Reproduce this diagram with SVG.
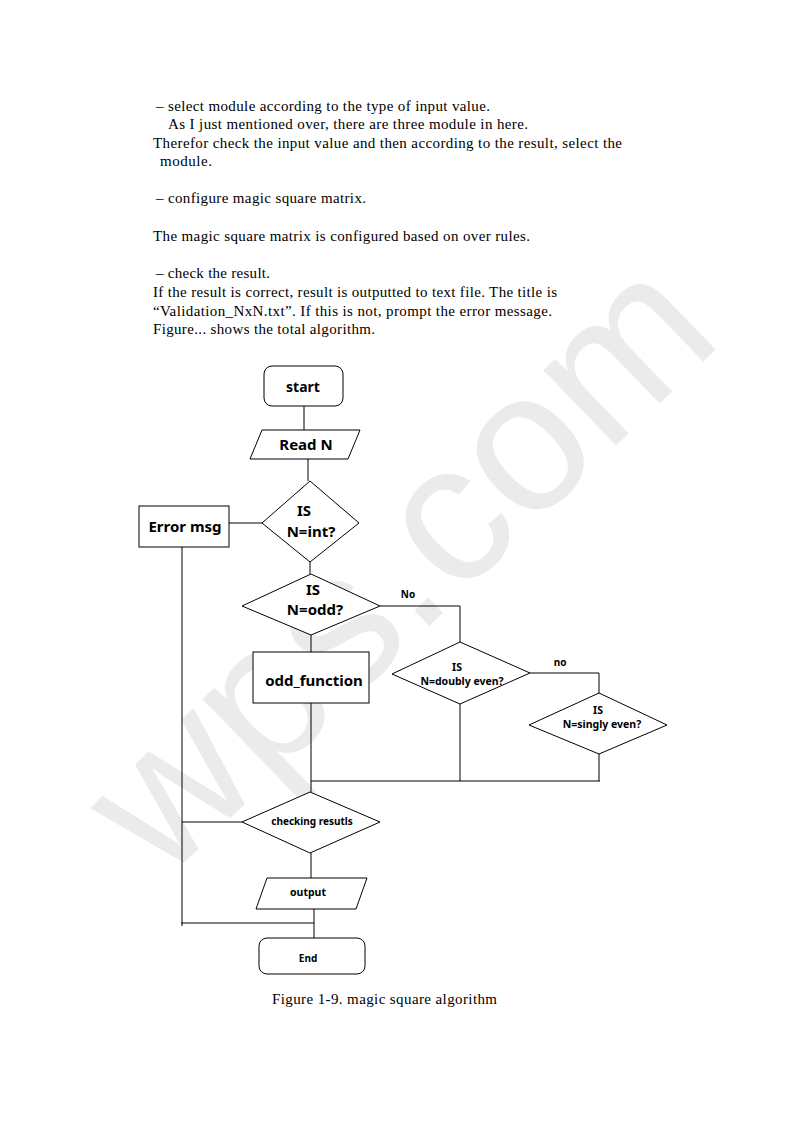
<svg xmlns="http://www.w3.org/2000/svg" width="793" height="1122" viewBox="0 0 793 1122">
<style>
.p{font-family:"Liberation Serif","Times New Roman",serif;font-size:15px;fill:#000}
.n{fill:#fff;stroke:#000;stroke-width:1}
.t{font-family:"Noto Sans","Open Sans",sans-serif;font-weight:bold;fill:#000;text-anchor:middle;dominant-baseline:central}
.c{fill:none;stroke:#000;stroke-width:1}
.wm{font-family:"Liberation Sans",Arial,sans-serif;font-size:198px;fill:#ebebeb}
</style>
<rect width="793" height="1122" fill="#fff"/>
<text class="wm" x="163" y="883" transform="rotate(-44 163 883)">wps.com</text>
<g id="body-text">
<text class="p" x="156" y="111" textLength="334" lengthAdjust="spacing">– select module according to the type of input value.</text>
<text class="p" x="168" y="129" textLength="360" lengthAdjust="spacing">As I just mentioned over, there are three module in here.</text>
<text class="p" x="153" y="148" textLength="469" lengthAdjust="spacing">Therefor check the input value and then according to the result, select the</text>
<text class="p" x="160" y="166" textLength="52" lengthAdjust="spacing">module.</text>
<text class="p" x="156" y="203" textLength="210" lengthAdjust="spacing">– configure magic square matrix.</text>
<text class="p" x="153" y="241" textLength="377" lengthAdjust="spacing">The magic square matrix is configured based on over rules.</text>
<text class="p" x="156" y="278" textLength="114" lengthAdjust="spacing">– check the result.</text>
<text class="p" x="153" y="297" textLength="404" lengthAdjust="spacing">If the result is correct, result is outputted to text file. The title is</text>
<text class="p" x="153" y="316" textLength="399" lengthAdjust="spacing">“Validation_NxN.txt”. If this is not, prompt the error message.</text>
<text class="p" x="153" y="334" textLength="222" lengthAdjust="spacing">Figure... shows the total algorithm.</text>
</g>
<g id="connectors">
<path class="c" d="M304 406V430"/>
<path class="c" d="M308 459V481"/>
<path class="c" d="M229 523H262"/>
<path class="c" d="M182 547V926"/>
<path class="c" d="M310 562V574"/>
<path class="c" d="M380 606H460V642"/>
<path class="c" d="M311 635V652"/>
<path class="c" d="M530 673H599V693"/>
<path class="c" d="M311 703V792"/>
<path class="c" d="M460 704V781"/>
<path class="c" d="M599 754V781"/>
<path class="c" d="M311 781H600"/>
<path class="c" d="M182 822H242"/>
<path class="c" d="M311 853V878"/>
<path class="c" d="M314 909V938"/>
<path class="c" d="M181 923H314"/>
</g>
<g id="start">
<rect class="n" x="264" y="366" width="79" height="40" rx="8"/>
<text class="t" x="303" y="386" font-size="14">start</text>
</g>
<g id="readN">
<polygon class="n" points="262,430 360,430 348,459 250,459"/>
<text class="t" x="306" y="444" font-size="15">Read N</text>
</g>
<g id="isInt">
<polygon class="n" points="310,481 359,523 310,562 262,523"/>
<text class="t" x="304" y="510" font-size="15">IS</text>
<text class="t" x="311" y="531" font-size="15">N=int?</text>
</g>
<g id="errorMsg">
<rect class="n" x="139" y="506" width="90" height="41"/>
<text class="t" x="185" y="526" font-size="15">Error msg</text>
</g>
<g id="isOdd">
<polygon class="n" points="311,574 380,606 311,635 242,606"/>
<text class="t" x="313" y="589" font-size="15">IS</text>
<text class="t" x="315" y="609" font-size="15">N=odd?</text>
</g>
<text class="t" x="408" y="594" font-size="10">No</text>
<g id="oddFunction">
<rect class="n" x="253" y="652" width="116" height="51"/>
<text class="t" x="314" y="680" font-size="15">odd_function</text>
</g>
<g id="isDoubly">
<polygon class="n" points="460,642 530,673 460,704 392,674"/>
<text class="t" x="457" y="667" font-size="10.5">IS</text>
<text class="t" x="462" y="681" font-size="10.5">N=doubly even?</text>
</g>
<text class="t" x="560" y="662" font-size="10">no</text>
<g id="isSingly">
<polygon class="n" points="599,693 667,725 599,754 529,725"/>
<text class="t" x="598" y="710" font-size="10.5">IS</text>
<text class="t" x="602" y="724" font-size="10.5">N=singly even?</text>
</g>
<g id="checking">
<polygon class="n" points="310,792 380,822 310,853 242,822"/>
<text class="t" x="312" y="821" font-size="10">checking resutls</text>
</g>
<g id="output">
<polygon class="n" points="267,878 367,878 356,909 256,909"/>
<text class="t" x="308" y="892" font-size="10.5">output</text>
</g>
<g id="end">
<rect class="n" x="259" y="938" width="106" height="36" rx="8"/>
<text class="t" x="308" y="958" font-size="10">End</text>
</g>
<text class="p" x="272" y="1004" textLength="225" lengthAdjust="spacing">Figure 1-9. magic square algorithm</text>
</svg>
